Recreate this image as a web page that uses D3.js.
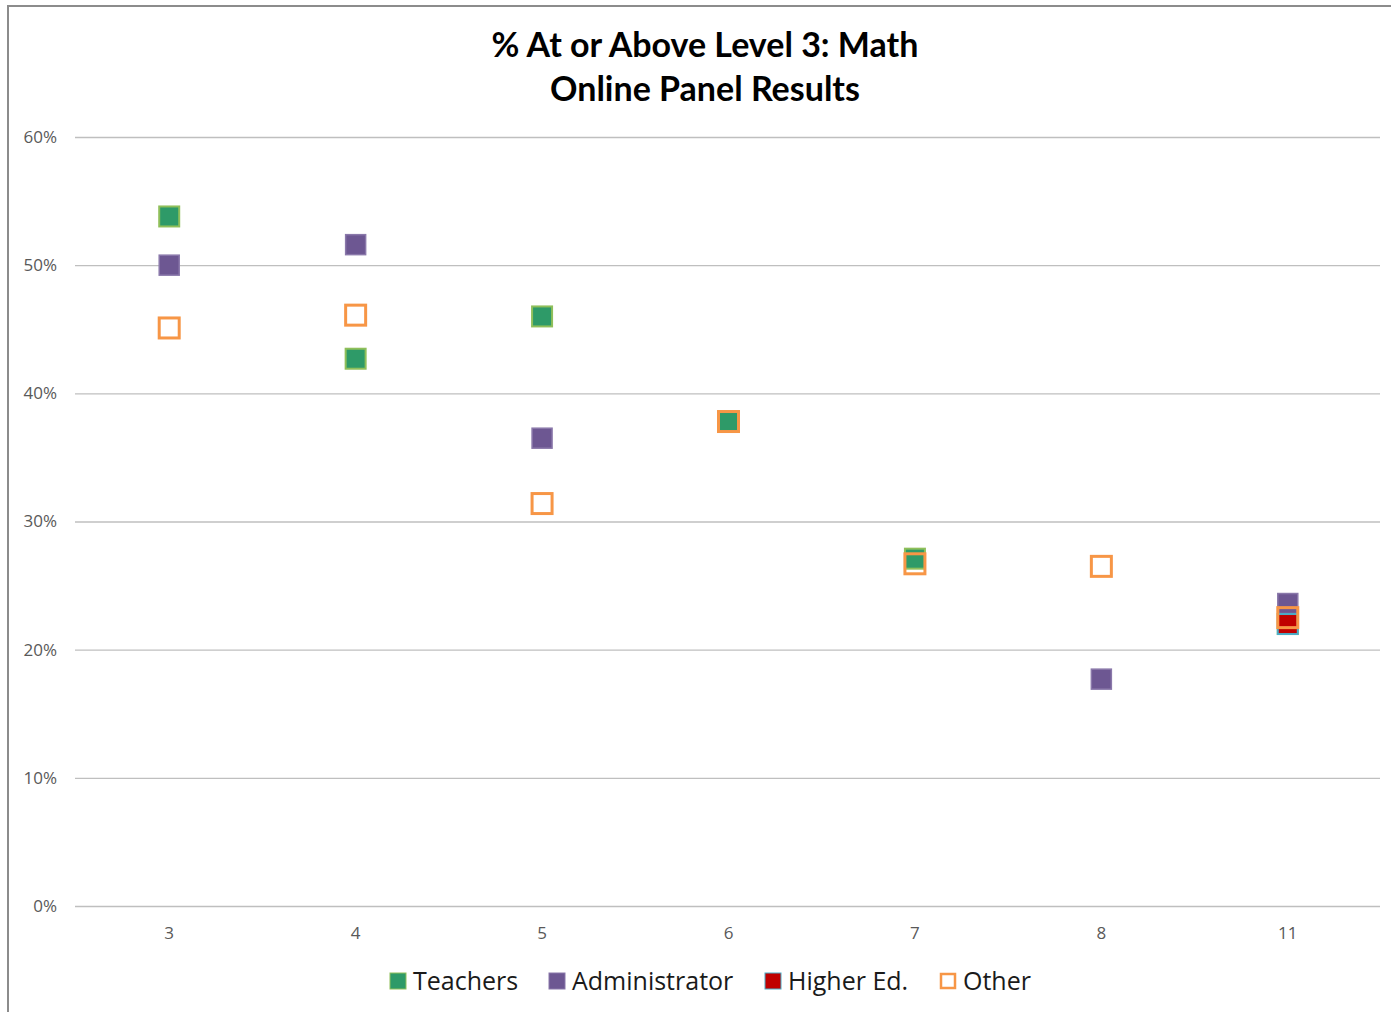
<!DOCTYPE html>
<html>
<head>
<meta charset="utf-8">
<script src="https://cdn.jsdelivr.net/npm/d3@7"></script>
<style>
  html, body { margin: 0; padding: 0; background: #fff; }
  svg { display: block; }
</style>
</head>
<body>
<svg id="chart" width="1391" height="1012"></svg>
<script>
// Grade levels on the x axis
const grades = ["3", "4", "5", "6", "7", "8", "11"];

// Percent at or above Level 3, by panel group (null = no point)
const teachers      = [53.8, 42.7, 46.0, 37.8, 27.1, null, 22.0];
const administrator = [50.0, 51.6, 36.5, null, null, 17.7, 23.6];
const higherEd      = [null, null, null, null, null, null, 22.0];
const other         = [45.1, 46.1, 31.4, 37.8, 26.7, 26.5, 22.5];

const yTicks = [0, 10, 20, 30, 40, 50, 60];

const seriesList = [
  { name: "Teachers",      values: teachers,      fill: "#2e9a68", stroke: "#8fbf5a", sw: 2 },
  { name: "Administrator", values: administrator, fill: "#6d5792", stroke: "#8a78aa", sw: 1.5 },
  { name: "Higher Ed.",    values: higherEd,      fill: "#c00000", stroke: "#4bacc6", sw: 2 },
  { name: "Other",         values: other,         fill: "none",    stroke: "#f79646", sw: 3 }
];

const svg = d3.select("#chart");
const W = 1391, H = 1012;

// chart frame
svg.append("rect").attr("x", 8).attr("y", 6).attr("width", W + 10).attr("height", H + 10)
  .attr("fill", "#fff").attr("stroke", "#8c8c8c").attr("stroke-width", 2);

const plot = { left: 75, right: 1380, top: 137, bottom: 906 };

const x = d3.scaleBand().domain(grades).range([plot.left + 1, plot.right + 1]).padding(0);
const y = d3.scaleLinear().domain([0, 60]).range([plot.bottom, plot.top]);

const tickFont = "'Open Sans', 'Noto Sans', sans-serif";

// gridlines and y labels
const yAxis = d3.axisLeft(y).tickValues(yTicks).tickSize(-(plot.right - plot.left))
  .tickFormat(d => d + "%").tickPadding(18);
const gy = svg.append("g").attr("transform", `translate(${plot.left},0)`).call(yAxis);
gy.select(".domain").remove();
gy.selectAll(".tick line").attr("stroke", "#bfbfbf").attr("stroke-width", 1.3);
gy.selectAll(".tick text").attr("fill", "#595959").attr("font-size", 17)
  .attr("font-family", tickFont);

// x labels
const xAxis = d3.axisBottom(x).tickSize(0).tickPadding(21);
const gx = svg.append("g").attr("transform", `translate(0,${plot.bottom})`).call(xAxis);
gx.select(".domain").remove();
gx.selectAll(".tick text").attr("fill", "#595959").attr("font-size", 17)
  .attr("font-family", tickFont);

// markers
const size = 20;
seriesList.forEach(s => {
  const pts = grades.map((g, i) => ({ g, v: s.values[i] })).filter(d => d.v != null);
  svg.append("g").selectAll("rect").data(pts).join("rect")
    .attr("x", d => x(d.g) + x.bandwidth() / 2 - size / 2)
    .attr("y", d => y(d.v) - size / 2)
    .attr("width", size).attr("height", size)
    .attr("fill", s.fill).attr("stroke", s.stroke).attr("stroke-width", s.sw);
});

// title
const title = svg.append("text").attr("x", 705).attr("text-anchor", "middle")
  .attr("font-family", "Lato, 'Open Sans', sans-serif").attr("font-weight", "bold")
  .attr("font-size", 34).attr("fill", "#000");
title.append("tspan").attr("x", 705).attr("y", 57).text("% At or Above Level 3: Math");
title.append("tspan").attr("x", 705).attr("y", 101).text("Online Panel Results");

// legend
const legendItems = [
  { s: seriesList[0], x: 390 },
  { s: seriesList[1], x: 549 },
  { s: seriesList[2], x: 765 },
  { s: seriesList[3], x: 940 }
];
const lg = svg.append("g").attr("transform", "translate(0,981)");
legendItems.forEach(it => {
  const hollow = it.s.name === "Other";
  const sq = hollow ? 14 : 16;
  lg.append("rect").attr("x", it.x + (16 - sq) / 2).attr("y", -8 - (sq - 16) / 2)
    .attr("width", sq).attr("height", sq)
    .attr("fill", hollow ? "#fff" : it.s.fill).attr("stroke", it.s.stroke)
    .attr("stroke-width", hollow ? 2.5 : 1);
  lg.append("text").attr("x", it.x + 23).attr("y", 9)
    .attr("font-family", tickFont).attr("font-size", 25)
    .attr("fill", "#1a1a1a").text(it.s.name);
});
</script>
</body>
</html>
